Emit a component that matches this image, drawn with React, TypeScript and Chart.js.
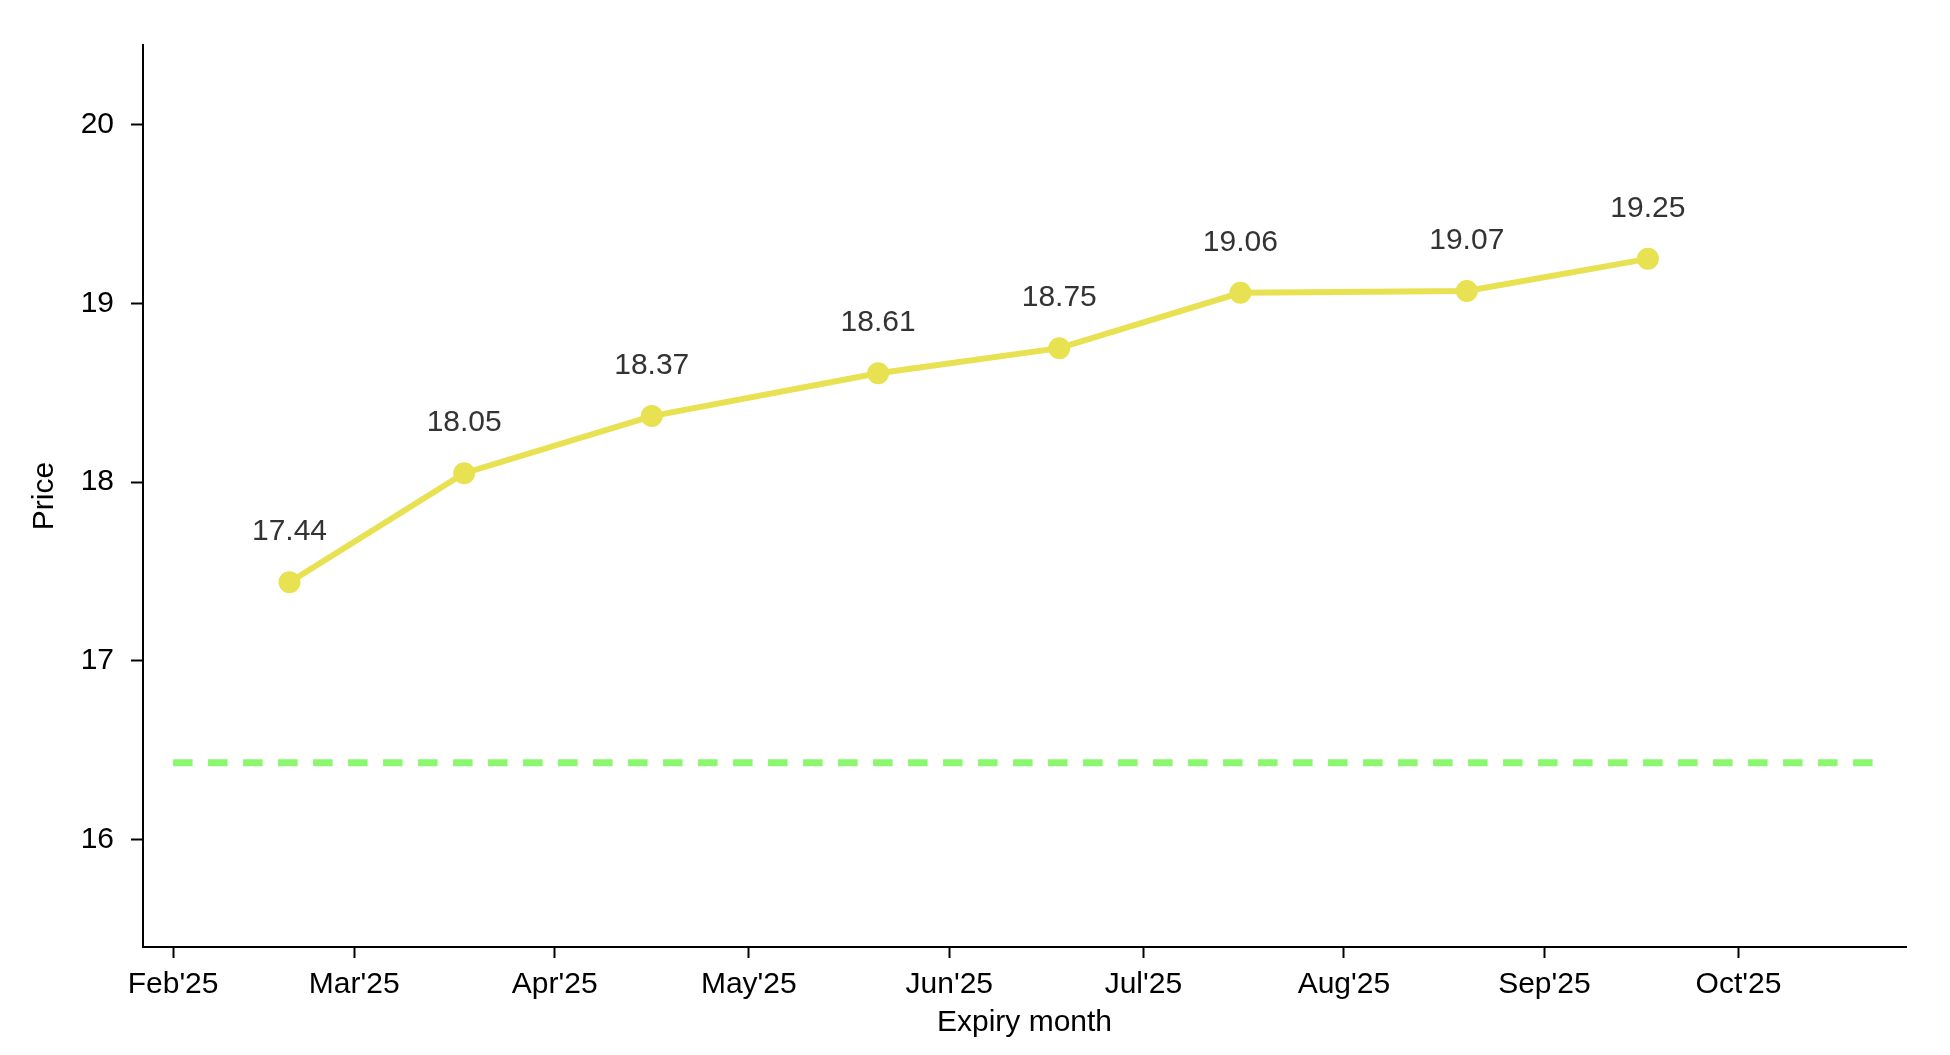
import { useEffect, useRef } from 'react';
import { Chart, registerables } from 'chart.js';

Chart.register(...registerables);

// ---- data ----
const expiryDates = [
  '2025-02-19',
  '2025-03-18',
  '2025-04-16',
  '2025-05-21',
  '2025-06-18',
  '2025-07-16',
  '2025-08-20',
  '2025-09-17',
];
const prices = [17.44, 18.05, 18.37, 18.61, 18.75, 19.06, 19.07, 19.25];

const referenceDates = ['2025-02-01', '2025-10-22'];
const referenceLevel = [16.43, 16.43];

const monthTickDates = [
  '2025-02-01',
  '2025-03-01',
  '2025-04-01',
  '2025-05-01',
  '2025-06-01',
  '2025-07-01',
  '2025-08-01',
  '2025-09-01',
  '2025-10-01',
];
const monthTickLabels = ["Feb'25", "Mar'25", "Apr'25", "May'25", "Jun'25", "Jul'25", "Aug'25", "Sep'25", "Oct'25"];
const priceTicks = [16, 17, 18, 19, 20];

const xTitle = 'Expiry month';
const yTitle = 'Price';

const FONT = '"Liberation Sans", Arial, Helvetica, sans-serif';

const toDay = (s: string) =>
  Date.UTC(+s.slice(0, 4), +s.slice(5, 7) - 1, +s.slice(8, 10)) / 86400000;

const X_MIN = toDay('2025-02-01') - 4.65;
const X_MAX = toDay('2025-10-01') + 25.9;
const Y_MIN = 15.398;
const Y_MAX = 20.447;

const valueLabels = {
  id: 'valueLabels',
  afterDatasetsDraw(chart: any) {
    const meta = chart.getDatasetMeta(0);
    const ctx = chart.ctx;
    ctx.save();
    ctx.font = `30px ${FONT}`;
    ctx.fillStyle = '#333333';
    ctx.textAlign = 'center';
    ctx.textBaseline = 'middle';
    meta.data.forEach((pt: any, i: number) => {
      ctx.fillText(prices[i].toFixed(2), pt.x, pt.y - 50);
    });
    ctx.restore();
  },
};

export default function App() {
  const ref = useRef<HTMLCanvasElement | null>(null);

  useEffect(() => {
    document.body.style.margin = '0';
    document.body.style.background = '#ffffff';
    const canvas = ref.current;
    if (!canvas) return;

    const chart = new Chart(canvas, {
      type: 'line',
      data: {
        datasets: [
          {
            label: 'Price',
            data: expiryDates.map((d, i) => ({ x: toDay(d), y: prices[i] })),
            borderColor: '#e8e152',
            backgroundColor: '#e8e152',
            borderWidth: 6,
            pointRadius: 11,
            pointBorderWidth: 0,
            pointBackgroundColor: '#e8e152',
            tension: 0,
            fill: false,
          },
          {
            label: 'Reference',
            data: referenceDates.map((d, i) => ({ x: toDay(d), y: referenceLevel[i] })),
            borderColor: '#8af76f',
            borderWidth: 7,
            borderDash: [19.5, 15.5],
            borderCapStyle: 'butt',
            pointRadius: 0,
            fill: false,
          },
        ],
      },
      options: {
        animation: false,
        responsive: false,
        devicePixelRatio: 1,
        layout: { padding: { top: 45, right: 44, left: 0, bottom: 0 } },
        plugins: {
          legend: { display: false },
          tooltip: { enabled: false },
        },
        scales: {
          x: {
            type: 'linear',
            position: 'bottom',
            min: X_MIN,
            max: X_MAX,
            afterBuildTicks: (scale: any) => {
              scale.ticks = monthTickDates.map((d) => ({ value: toDay(d) }));
            },
            afterFit: (scale: any) => {
              scale.height = 108;
            },
            ticks: {
              autoSkip: false,
              maxRotation: 0,
              minRotation: 0,
              padding: 9,
              color: '#000000',
              font: { family: FONT, size: 30 },
              callback: (_v: any, i: number) => monthTickLabels[i],
            },
            grid: {
              display: true,
              drawOnChartArea: false,
              drawTicks: true,
              tickLength: 11,
              tickWidth: 2,
              tickColor: '#000000',
            },
            border: { display: true, color: '#000000', width: 2 },
            title: {
              display: true,
              text: xTitle,
              color: '#000000',
              font: { family: FONT, size: 30 },
              padding: { top: 0, bottom: 14.5 },
            },
          },
          y: {
            type: 'linear',
            min: Y_MIN,
            max: Y_MAX,
            afterBuildTicks: (scale: any) => {
              scale.ticks = priceTicks.map((v) => ({ value: v }));
            },
            afterFit: (scale: any) => {
              scale.width = 143;
            },
            ticks: {
              padding: 17,
              color: '#000000',
              font: { family: FONT, size: 30 },
              callback: (v: any) => String(v),
            },
            grid: {
              display: true,
              drawOnChartArea: false,
              drawTicks: true,
              tickLength: 12,
              tickWidth: 2,
              tickColor: '#000000',
            },
            border: { display: true, color: '#000000', width: 2 },
            title: {
              display: true,
              text: yTitle,
              color: '#000000',
              font: { family: FONT, size: 30 },
              padding: { top: 26.5, bottom: 0 },
            },
          },
        },
      },
      plugins: [valueLabels],
    } as any);

    return () => chart.destroy();
  }, []);

  return (
    <div style={{ position: 'absolute', left: 0, top: 0, width: 1950, height: 1055, background: '#fff' }}>
      <canvas ref={ref} width={1950} height={1055} style={{ display: 'block', width: 1950, height: 1055 }} />
    </div>
  );
}
